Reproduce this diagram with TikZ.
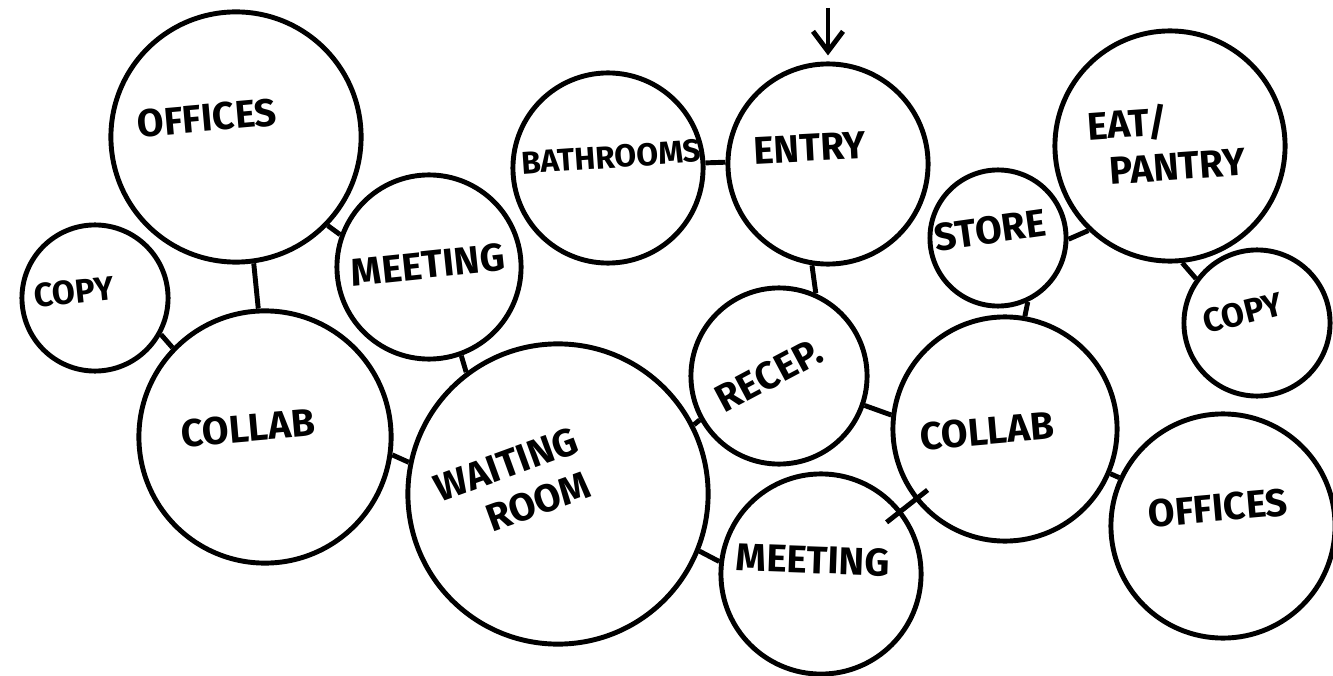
\documentclass[tikz,border=0pt]{standalone}
\usepackage{fontspec}
\setmainfont{Fira Sans}
\usetikzlibrary{arrows.meta}

\begin{document}
\begin{tikzpicture}[x=0.01cm,y=-0.01cm]
\tikzset{bubble/.style = {shape=circle,draw,line width=1.4pt,inner sep=0pt}}
\tikzset{link/.style = {line width=1.4pt}}
\tikzset{tag/.style = {font=\bfseries\fontsize{11}{13}\selectfont,align=left,inner sep=1pt}}
\tikzset{smalltag/.style = {tag,font=\bfseries\fontsize{9.5}{11}\selectfont}}
\useasboundingbox (0,0) rectangle (1333,676);

% bubbles
\foreach \pos/\rad/\name in {{(236,137)/125/off1}, {(95,298)/73/copy1}, {(265,437)/126/col1},
  {(429,267)/92/meet1}, {(558,494)/150/wait}, {(608,168)/95/bath}, {(828,164)/100/entry},
  {(779,376)/88/recep}, {(821,574)/100/meet2}, {(998,238)/68/store}, {(1170,146)/115/eat},
  {(1257,323)/73/copy2}, {(1005,429)/112/col2}, {(1223,526)/112/off2}}
\node[bubble,minimum size=\rad*0.02cm] (\name) at \pos {};

% texts
\foreach \pos/\ang/\txt/\name in {{(207,118)/5/OFFICES/off1},
  {(248,428)/5/COLLAB/col1}, {(428,265)/6/MEETING/meet1}, {(514,486)/20/{WAITING\\\quad ROOM}/wait},
  {(810,148)/3/ENTRY/entry}, {(769,375)/28/RECEP./recep}, {(813,560)/-2/MEETING/meet2},
  {(990,230)/8/STORE/store}, {(987,431)/5/COLLAB/col2}, {(1218,508)/5/OFFICES/off2}}
\node[tag,rotate=\ang] (\name-t) at \pos {\txt};
\node[smalltag,rotate=6] (copy1-t) at (74,292) {COPY};
\node[smalltag,rotate=14] (copy2-t) at (1243,313) {COPY};
\node[tag,font=\bfseries\fontsize{9}{11}\selectfont,rotate=4] (bath-t) at (611,157) {BATHROOMS};
\node[tag,rotate=4] (eat-t) at (1166,142) {EAT/\\\enspace PANTRY};

% links
\foreach \from/\to in {off1.-82/col1.93, copy1.-29/col1.136, off1.-44/meet1.160, col1.-8/wait.168,
  meet1.-70/wait.127, bath.3/entry.179, entry.-99/recep.66, wait.27/recep.209, wait.-22/meet2.173,
  recep.-19/col2.173, store.-65/col2.80, store.-1/eat.226, eat.-84/copy2.144, col2.-23/off2.155}
\draw[link] (\from) -- (\to);
\draw[link,shorten <=-0.16cm,shorten >=-0.19cm] (col2) -- (meet2);

\coordinate (door) at (828,8);
\draw[link,-{Straight Barb[length=0.2cm,width=0.3cm]},shorten >=0.06cm] (door) -- (entry);
\end{tikzpicture}
\end{document}
